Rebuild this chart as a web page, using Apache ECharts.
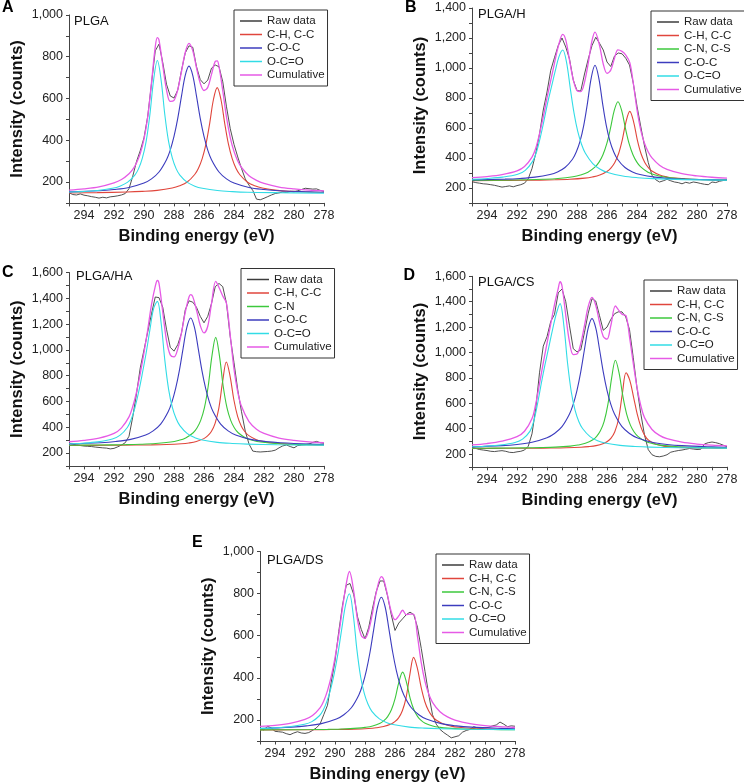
<!DOCTYPE html>
<html><head><meta charset="utf-8">
<script src="https://cdn.jsdelivr.net/npm/echarts@6/dist/echarts.min.js"></script>
<style>html,body{margin:0;padding:0;background:#fff}#c{width:744px;height:784px}</style>
</head><body><div id="c"></div>
<script>
// ---------- DATA ----------
const energy = [295,294.75,294.5,294.25,294,293.75,293.5,293.25,293,292.75,292.5,292.25,292,291.75,291.5,291.25,291,290.75,290.5,290.25,290,289.75,289.5,289.25,289,288.75,288.5,288.25,288,287.75,287.5,287.25,287,286.75,286.5,286.25,286,285.75,285.5,285.25,285,284.75,284.5,284.25,284,283.75,283.5,283.25,283,282.75,282.5,282.25,282,281.75,281.5,281.25,281,280.75,280.5,280.25,280,279.75,279.5,279.25,279,278.75,278.5,278.25,278];

// Panel A (PLGA)
const rawA = [149,140,138,143,137,134,130,127,123,127,124,129,131,134,138,145,168,228,298,350,412,515,672,828,860,772,668,612,602,640,735,818,852,845,752,690,670,688,745,760,752,680,560,455,380,320,265,215,185,160,118,115,122,130,138,145,148,152,150,155,153,158,164,170,168,166,167,160,155];
const redA_x = [295,293.12,291.12,290.12,289.12,288.12,287.62,287.12,286.62,286.37,286.12,285.87,285.62,285.37,285.12,284.87,284.62,284.37,284.12,283.87,283.62,283.12,282.62,282.12,281.12,280.12,279.12,278];
const redA_y = [147.5,149,152,155,160,171,182,200,236,266,312,381,481,595,652,595,481,381,312,266,236,200,182,171,160,155,152,150];
const blueA_x = [295,293,292,291,290,289.5,289,288.5,288.25,288,287.75,287.5,287.25,287,286.75,286.5,286.25,286,285.75,285.5,285,284.5,284,283,282,281,279,278];
const blueA_y = [153,158,164,174,195,215,248,307,353,418,505,611,711,755,711,611,505,418,353,307,248,215,195,174,164,158,153,151];
const cyanA_x = [295,294.11,293.11,292.11,291.61,291.11,290.61,290.36,290.11,289.86,289.61,289.36,289.11,288.86,288.61,288.36,288.11,287.86,287.61,287.11,286.61,286.11,285.11,284.11,283.11,281.11,278];
const cyanA_y = [152,154,159,170,180,198,233,264,314,393,521,688,782,688,521,393,314,264,233,198,180,170,159,154,151,149,147];
const cumA_x = [295,294,293,292,291.5,291,290.75,290.5,290.25,290,289.75,289.5,289.25,289.11,289,288.75,288.5,288.25,288,287.75,287.5,287.25,287,286.75,286.5,286.25,286,285.75,285.5,285.25,285.12,285,284.75,284.5,284.25,284,283.75,283.5,283,282.5,282,281,280,279,278];
const cumA_y = [161.6,167.5,177,196,212,240,261,291,336,405,513,676,847,891,879.5,759,641,586,591,642,729,820,864,829,747,672.5,638,653,715,777.5,780,753,637,510,413,346.5,301,270,230,207.5,193,176,167,161,158];

// Panel B (PLGA/H)
const rawB = [242,236,232,228,226,222,218,212,206,210,214,208,216,222,232,262,330,430,560,720,840,985,1070,1150,1200,1140,1060,920,850,846,960,1060,1150,1205,1165,1120,1040,1010,1080,1100,1095,1065,1020,900,745,610,480,370,285,255,240,248,258,248,240,236,228,238,232,240,236,230,225,222,240,236,245,250,255];
const redB_x = [295,292.48,290.48,289.48,288.48,287.48,286.98,286.48,285.98,285.73,285.48,285.23,284.98,284.73,284.48,284.23,283.98,283.73,283.48,283.23,282.98,282.48,281.98,281.48,280.48,279.48,278.48,278];
const redB_y = [249.5,250.6,252.6,254.6,258.2,265.8,273.2,286.2,311.9,334.6,370.7,428.6,521.2,642.5,711,642.5,521.2,428.6,370.7,334.6,311.9,286.2,273.2,265.8,258.2,254.6,252.6,251.9];
const greenB_x = [295,293.27,291.27,290.27,289.27,288.27,287.77,287.27,286.77,286.52,286.27,286.02,285.77,285.52,285.27,285.02,284.77,284.52,284.27,284.02,283.77,283.27,282.77,282.27,281.27,280.27,279.27,278];
const greenB_y = [250.7,252,255.1,258.1,263.7,275.2,286.3,305.4,342.3,374,421.4,493.6,597,715.4,775,715.4,597,493.6,421.4,374,342.3,305.4,286.3,275.2,263.7,258.1,255.1,252.8];
const blueB_x = [295,292.8,291.8,290.8,289.8,289.3,288.8,288.3,288.05,287.8,287.55,287.3,287.05,286.8,286.55,286.3,286.05,285.8,285.55,285.3,284.8,284.3,283.8,282.8,281.8,280.8,278.8,278];
const blueB_y = [253.9,258.9,263.6,272.2,290,307,336.6,392,439.7,510.6,617.6,767.8,934.8,1018,934.8,767.8,617.6,510.6,439.7,392,336.6,307,290,272.2,263.6,258.9,254.2,253.1];
const cyanB_x = [295,293.95,292.95,291.95,291.45,290.95,290.7,290.45,290.2,289.95,289.7,289.45,289.2,288.95,288.7,288.45,288.2,287.95,287.7,287.45,286.95,286.45,285.95,284.95,283.95,282.95,280.95,278];
const cyanB_y = [258.5,263.7,272.4,291.6,318,379,440,536,649,771,876,980.5,1076,1120,1039,866,701,577.6,492,433.7,363,325,303,280,268.7,262.5,256,252.4];
const cumB_x = [295,294,293,292,291.5,291,290.75,290.5,290.25,290,289.75,289.5,289.25,288.95,288.75,288.5,288.25,288,287.75,287.5,287.25,287,286.8,286.5,286.25,286,285.75,285.5,285.27,285,284.75,284.48,284.25,284,283.75,283.5,283.25,283,282.5,282,281,280,279,278];
const cumB_y = [268.6,276.2,289,313.7,342.8,406,465,560.3,673.7,800.5,916.8,1033,1143.5,1224.8,1188,1053,922.7,848.5,842,904.5,1032.6,1182,1239.6,1150.7,1026.8,964.7,985.8,1065.5,1121.2,1110.6,1086.5,1036.2,900.6,722,586.3,498,439.7,400.6,352,324.3,295.2,280.4,271.7,266.2];

// Panel C (PLGA/HA)
const rawC = [277,268,262,258,254,252,250,246,243,240,238,232,236,248,262,280,330,480,660,860,1000,1140,1280,1410,1405,1330,1160,1020,990,1040,1130,1310,1380,1370,1330,1260,1210,1260,1360,1490,1515,1490,1360,1100,900,690,520,370,270,215,210,208,210,212,215,222,240,255,262,250,240,258,262,265,270,282,290,280,276];
const redC_x = [295,292.51,290.51,289.51,288.51,287.51,287.01,286.51,286.01,285.76,285.51,285.26,285.01,284.76,284.51,284.26,284.01,283.76,283.51,283.26,283.01,282.51,282.01,281.51,280.51,279.51,278.51,278];
const redC_y = [259,260,261.6,263,266,272,278,289,311.5,332.5,367,430,548,753,906,795,613,484.8,408.3,363,334.8,303.6,287.9,279.1,270,265.8,263.4,262.6];
const greenC_x = [295,293.22,291.22,290.22,289.22,288.22,287.72,287.22,286.72,286.47,286.22,285.97,285.72,285.47,285.22,284.97,284.72,284.47,284.22,283.97,283.72,283.22,282.72,282.22,281.22,280.22,279.22,278];
const greenC_y = [260.7,262,265,268,273.6,285,297,317,357,394,453,552,718,953.5,1097,953.5,718,552,453,394,357,317,297,285,273.6,268,265,262.9];
const blueC_x = [295,292.89,291.89,290.89,289.89,289.39,288.89,288.39,288.14,287.89,287.64,287.39,287.14,286.89,286.64,286.39,286.14,285.89,285.64,285.39,284.89,284.39,283.89,282.89,281.89,280.89,278.89,278];
const blueC_y = [270,280,289,306,340,372,424,520,595,701,841.5,1014,1176,1247,1176,1014,841.5,701,595,520,424,372,340,306,289,280,270,268];
const cyanC_x = [295,294.11,293.11,292.11,291.61,291.11,290.86,290.61,290.36,290.11,289.86,289.61,289.36,289.11,288.86,288.61,288.36,288.11,287.86,287.61,287.11,286.61,286.11,285.11,284.11,283.11,281.11,278];
const cyanC_y = [271.4,275.9,286,308.3,336.3,397.8,459.2,548.7,671.7,817,973.5,1152.4,1320,1376,1210,918,694,554,467,412,350,319,301,282.6,274,269,264,261];
const cumC_x = [295,294,293,292,291.5,291,290.75,290.5,290.25,290,289.75,289.5,289.25,289.11,289,288.75,288.5,288.25,288,287.75,287.5,287.25,287,286.89,286.75,286.5,286.25,286,285.75,285.5,285.22,285,284.75,284.51,284.25,284,283.75,283.5,283,282.5,282,281,280,279,278];
const cumC_y = [287.4,297.4,315,352,395,480,561,673,816,978,1158,1350,1492,1538,1516,1294,1074,961,945,1007,1133,1290,1410,1428,1413,1309,1189,1131,1183,1358,1531,1484,1417,1364,1112,851,673,562,443,385,351.5,316,298,287,280.5];

// Panel D (PLGA/CS)
const rawD = [253,245,236,232,228,222,220,224,227,222,214,212,218,222,232,262,360,560,840,1050,1125,1245,1300,1470,1500,1400,1210,1030,1005,1020,1160,1310,1424,1405,1290,1175,1200,1260,1305,1320,1320,1280,1180,960,720,520,350,235,195,182,179,185,195,215,222,228,232,238,244,240,236,238,280,290,295,290,282,270,258];
const redD_x = [295,292.73,290.73,289.73,288.73,287.73,287.23,286.73,286.23,285.98,285.73,285.48,285.23,284.98,284.73,284.48,284.23,283.98,283.73,283.48,283.23,282.73,282.23,281.73,280.73,279.73,278.73,278];
const redD_y = [245,245.5,246.6,247.8,250,254.4,259,267,283.6,299.4,326,376,476.4,672.5,840,780.4,649.3,512.2,410.9,345.3,309.6,276.8,263.1,257.1,251.2,248.8,247,246.4];
const greenD_x = [295,293.44,291.44,290.44,289.44,288.44,287.94,287.44,286.94,286.69,286.44,286.19,285.94,285.69,285.44,285.19,284.94,284.69,284.44,284.19,283.94,283.44,282.94,282.44,281.44,280.44,279.44,278];
const greenD_y = [246,246.7,249,251,254.7,263,271,285,313.5,340,383,458,591.5,800,939,836,654,515,428.2,374,339.9,301.4,281.9,270.8,259.3,253.9,250.9,248.5];
const blueD_x = [295,293,292,291,290,289.5,289,288.5,288.25,288,287.75,287.5,287.25,287,286.75,286.5,286.25,286,285.75,285.5,285,284.5,284,283,282,281,279,278];
const blueD_y = [257,266.5,276,293,328.5,362,416,515,593,702,847.6,1025.6,1193,1267,1193,1025.6,847.6,702,593,515,416,362,328.5,293,276,266.5,257,254];
const cyanD_x = [295,294.13,293.13,292.13,291.63,291.13,290.88,290.63,290.38,290.13,289.88,289.63,289.38,289.13,288.88,288.63,288.38,288.13,287.88,287.63,287.13,286.63,286.13,285.13,284.13,283.13,281.13,278];
const cyanD_y = [257.7,262.3,271.4,291.9,318.2,380.9,460.8,597.7,757.5,905.8,1042.7,1179.6,1305,1385,1216,917,689,546,457,401.5,338,306,288,269,260,255,250,247.3];
const cumD_x = [295,294,293,292,291.5,291,290.75,290.5,290.25,290,289.75,289.5,289.25,289.13,289,288.75,288.5,288.25,288,287.75,287.5,287.25,287,286.75,286.5,286.25,286,285.75,285.44,285.25,285,284.73,284.5,284.25,284,283.75,283.5,283,282.5,282,281,280,279,278];
const cumD_y = [273,283.3,302,337,380,479.5,596,754.4,918.5,1072.8,1225.6,1377,1504,1557,1524,1293,1083,984,988,1070,1213,1363,1434,1372,1238,1126,1105,1209,1367,1337.4,1301.3,1289.1,1123.3,916.4,725.4,583.9,487.1,393.9,347.2,320.9,293.8,279.3,270.4,264.3];

// Panel E (PLGA/DS)
const rawE = [160,152,170,162,146,144,142,135,130,138,144,138,136,140,150,162,180,225,270,380,480,620,745,840,848,795,690,630,585,640,730,810,860,860,790,700,625,660,680,700,712,700,640,540,430,320,225,180,155,140,128,115,120,125,142,150,155,168,162,160,162,165,172,176,190,180,168,172,170];
const redE_x = [295,292.76,290.76,289.76,288.76,287.76,287.26,286.76,286.26,286.01,285.76,285.51,285.26,285.01,284.76,284.51,284.26,284.01,283.76,283.51,283.26,282.76,282.26,281.76,280.76,279.76,278.76,278];
const redE_y = [152.7,153.1,153.9,154.8,156.3,159.6,162.8,168.6,180.5,191.7,210,243.4,306.4,415.6,497,446,355.6,286.6,243.4,216.5,199.6,180.5,170.8,165.3,159.6,156.9,155.4,154.7];
const greenE_x = [295,293.49,291.49,290.49,289.49,288.49,287.99,287.49,286.99,286.74,286.49,286.24,285.99,285.74,285.49,285.24,284.99,284.74,284.49,284.24,283.99,283.49,282.99,282.49,281.49,280.49,279.49,278];
const greenE_y = [153,153.3,154.3,155.3,157,161,164.7,171.3,184.6,196.6,215.8,248.3,302.7,380,427,380,302.7,248.3,215.8,196.6,184.6,171.3,164.7,161,157,155.3,154.3,153.5];
const blueE_x = [295,292.91,291.91,290.91,289.91,289.41,288.91,288.41,288.16,287.91,287.66,287.41,287.16,286.91,286.66,286.41,286.16,285.91,285.66,285.41,284.91,284.41,283.91,282.91,281.91,280.91,278.91,278];
const blueE_y = [159.7,166,171.8,182.4,204,224.6,258,319,367,434.7,524,634,737.6,783,737.6,634,524,434.7,367,319,258,224.6,204,182.4,171.8,166,160,158.4];
const cyanE_x = [295,294.04,293.04,292.04,291.54,291.04,290.79,290.54,290.29,290.04,289.79,289.54,289.29,289.04,288.79,288.54,288.29,288.04,287.79,287.54,287.04,286.54,286.04,285.04,284.04,283.04,281.04,278];
const cyanE_y = [159.8,162.4,167.5,179.2,192.1,219.9,245.8,287.9,346.1,423.7,520.8,637.3,747.2,799,703,534,404,323.5,273,241,205,187,177,166,161,158.4,155.6,154];
const cumE_x = [295,294,293,292,291.5,291,290.75,290.5,290.25,290,289.75,289.5,289.25,289.04,288.75,288.5,288.25,288,287.75,287.5,287.25,286.91,286.75,286.5,286.25,286,285.75,285.49,285.25,285,284.76,284.5,284.25,284,283.75,283.5,283,282.5,282,281,280,279,278];
const cumE_y = [169.3,174.2,184,202.7,221.2,257.4,290,339.5,406.7,495,604,731,846,905,810,676,601,588,627,707,805,881,866,793,714,676,694,721,700,703,703,595.8,472.3,381.9,322.9,283.8,238.7,214.5,199.7,182.7,173.3,168.1,164.2];

const yMaxes = [1000, 1400, 1600, 1600, 1000];
const panelNames = ['PLGA', 'PLGA/H', 'PLGA/HA', 'PLGA/CS', 'PLGA/DS'];
const panelLetters = ['A', 'B', 'C', 'D', 'E'];

// ---------- LAYOUT / STYLE ----------
const COL = {raw:'#3c3c3c', red:'#e0463c', green:'#3cc83c', blue:'#3c3cbe', cyan:'#32dce6', mag:'#e65ae6'};
const FONT = '"Liberation Sans", Arial, sans-serif';
const grids = [
  {left:69, top:14.9, width:255, height:188},
  {left:472, top:8, width:255, height:195},
  {left:69, top:272.5, width:255, height:193.4},
  {left:472, top:276.3, width:255, height:190.5},
  {left:260, top:551.5, width:255, height:191.2}
];
const legendPos = [[234,10],[651,11],[241,268.5],[644,280],[436,554]];
const labelPos = [[74,14.5],[478,8],[76,269.5],[478,276],[267,554]];
const letterPos = [[2,0],[405,-0.5],[2,264.5],[403.5,267.5],[192,534.5]];

const panels = [
  {raw: rawA, comps: [['C-H, C-C', redA_x, redA_y, COL.red], ['C-O-C', blueA_x, blueA_y, COL.blue], ['O-C=O', cyanA_x, cyanA_y, COL.cyan]], cum: [cumA_x, cumA_y]},
  {raw: rawB, comps: [['C-H, C-C', redB_x, redB_y, COL.red], ['C-N, C-S', greenB_x, greenB_y, COL.green], ['C-O-C', blueB_x, blueB_y, COL.blue], ['O-C=O', cyanB_x, cyanB_y, COL.cyan]], cum: [cumB_x, cumB_y]},
  {raw: rawC, comps: [['C-H, C-C', redC_x, redC_y, COL.red], ['C-N', greenC_x, greenC_y, COL.green], ['C-O-C', blueC_x, blueC_y, COL.blue], ['O-C=O', cyanC_x, cyanC_y, COL.cyan]], cum: [cumC_x, cumC_y]},
  {raw: rawD, comps: [['C-H, C-C', redD_x, redD_y, COL.red], ['C-N, C-S', greenD_x, greenD_y, COL.green], ['C-O-C', blueD_x, blueD_y, COL.blue], ['O-C=O', cyanD_x, cyanD_y, COL.cyan]], cum: [cumD_x, cumD_y]},
  {raw: rawE, comps: [['C-H, C-C', redE_x, redE_y, COL.red], ['C-N, C-S', greenE_x, greenE_y, COL.green], ['C-O-C', blueE_x, blueE_y, COL.blue], ['O-C=O', cyanE_x, cyanE_y, COL.cyan]], cum: [cumE_x, cumE_y]}
];

function zip(xs, ys) { return xs.map((x, i) => [x, ys[i]]); }

const option = {
  animation: false,
  backgroundColor: '#fff',
  grid: grids.map(g => Object.assign({containLabel: false}, g)),
  xAxis: [], yAxis: [], series: [], legend: [], graphic: []
};

panels.forEach((p, i) => {
  option.xAxis.push({
    type: 'value', gridIndex: i, min: 278, max: 295, interval: 1, inverse: true,
    name: 'Binding energy (eV)', nameLocation: 'middle', nameGap: 25,
    nameTextStyle: {fontFamily: FONT, fontWeight: 'bold', fontSize: 16.5, color: '#111'},
    axisLine: {show: true, onZero: false, lineStyle: {color: '#444', width: 1}},
    axisTick: {show: true, length: 3.5, lineStyle: {color: '#444'}},
    axisLabel: {fontFamily: FONT, fontSize: 12.5, color: '#222', margin: 6,
      formatter: v => (v % 2 === 0 ? String(v) : '')},
    splitLine: {show: false}
  });
  option.yAxis.push({
    type: 'value', gridIndex: i, min: 100, max: yMaxes[i], interval: 100,
    name: 'Intensity (counts)', nameLocation: 'middle', nameGap: 43,
    nameTextStyle: {fontFamily: FONT, fontWeight: 'bold', fontSize: 16.5, color: '#111'},
    axisLine: {show: true, onZero: false, lineStyle: {color: '#444', width: 1}},
    axisTick: {show: true, length: 3, lineStyle: {color: '#444'}},
    axisLabel: {fontFamily: FONT, fontSize: 12.5, color: '#222', margin: 6,
      formatter: v => (v % 200 === 0 ? v.toLocaleString('en-US') : '')},
    splitLine: {show: false}
  });
  const names = ['Raw data'];
  option.series.push({
    name: 'Raw data', type: 'line', xAxisIndex: i, yAxisIndex: i, data: zip(energy, p.raw),
    symbol: 'none', showSymbol: false, smooth: false,
    lineStyle: {color: COL.raw, width: 0.9}, itemStyle: {color: COL.raw}, z: 2
  });
  p.comps.forEach(c => {
    names.push(c[0]);
    option.series.push({
      name: c[0], type: 'line', xAxisIndex: i, yAxisIndex: i, data: zip(c[1], c[2]),
      symbol: 'none', showSymbol: false, smooth: 0.35,
      lineStyle: {color: c[3], width: 1.1}, itemStyle: {color: c[3]}, z: 3
    });
  });
  names.push('Cumulative');
  option.series.push({
    name: 'Cumulative', type: 'line', xAxisIndex: i, yAxisIndex: i, data: zip(p.cum[0], p.cum[1]),
    symbol: 'none', showSymbol: false, smooth: 0.35,
    lineStyle: {color: COL.mag, width: 1.3}, itemStyle: {color: COL.mag}, z: 4
  });
  option.legend.push({
    left: legendPos[i][0], top: legendPos[i][1], orient: 'vertical', data: names,
    icon: 'rect', itemWidth: 22, itemHeight: 1.5, itemGap: 1.5, padding: [5, 3, 5, 6],
    borderColor: '#333', borderWidth: 1, backgroundColor: '#fff', selectedMode: false,
    textStyle: {fontFamily: FONT, fontSize: 11.5, color: '#222', lineHeight: 12}
  });
  option.graphic.push({type: 'text', left: labelPos[i][0], top: labelPos[i][1],
    style: {text: panelNames[i], font: '13px ' + FONT, fill: '#111'}});
  option.graphic.push({type: 'text', left: letterPos[i][0], top: letterPos[i][1],
    style: {text: panelLetters[i], font: 'bold 16px ' + FONT, fill: '#000'}});
});

const chart = echarts.init(document.getElementById('c'), null, {renderer: 'canvas'});
chart.setOption(option);
</script></body></html>
